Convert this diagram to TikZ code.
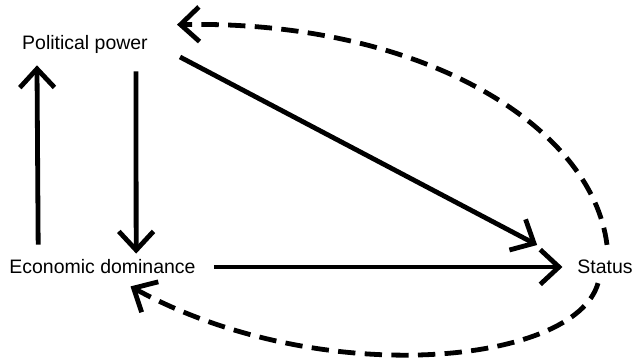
\documentclass[tikz,border=0pt]{standalone}
\usepackage{fontspec}
\setmainfont{Liberation Sans}
\usepackage{tikz}
\usetikzlibrary{arrows.meta, calc}

\begin{document}
\begin{tikzpicture}[x=0.75pt, y=-0.75pt,
        txt/.style={inner sep=0pt, font=\fontsize{14.6}{17}\selectfont},
        line/.style={draw, line width=3.6pt, -{Straight Barb[length=14pt, width=26pt, line width=3.6pt]}},
        dline/.style={line, dash pattern=on 13pt off 7pt}]
        \useasboundingbox (0,0) rectangle (633,364);

        \node [txt] (pol) at (85,44) {Political power};
        \node [txt] (econ) at (102.5,267) {Economic dominance};
        \node [txt] (status) at (605,267) {Status};

        \path [line] ($(econ.north west)+(29,-15)$) -- ($(pol.south west)+(15,12)$);
        \path [line] ($(pol.south west)+(114,18)$) -- ($(econ.north west)+(127,-6)$);
        \path [line] ($(pol.east)+(32,13)$) -- ($(status.west)+(-40,-22)$);
        \path [line, shorten <=13.5pt, shorten >=11pt] (econ.east) -- (status.west);
        \path [dline] ($(status.north)+(2,-15)$) .. controls (592,125) and (420,20) .. ($(pol.north east)+(29,-10)$);
        \path [dline] ($(status.south)+(-7,9)$) .. controls (575,365) and (320,390) .. ($(econ.south)+(28,12)$);
    \end{tikzpicture}
\end{document}
